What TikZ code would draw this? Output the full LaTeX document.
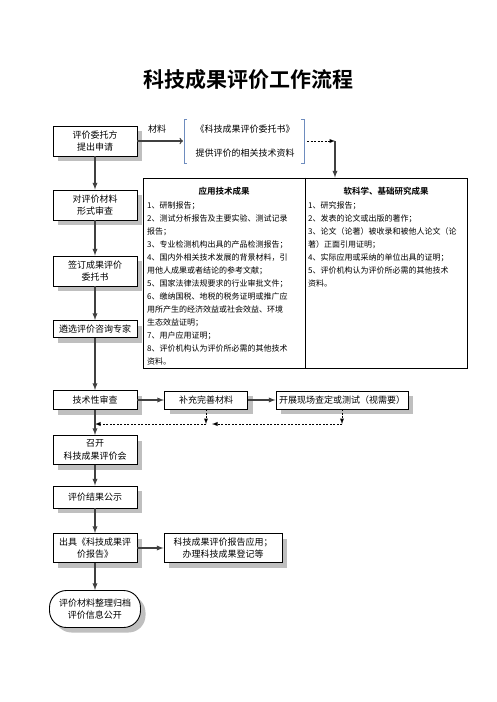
\documentclass[tikz,border=0pt]{standalone}
\usepackage{fontspec}
\setmainfont{Noto Sans CJK SC}[BoldFont={Noto Sans CJK SC Bold}]
\usetikzlibrary{arrows,shadows,calc}
\definecolor{box_shadow}{RGB}{191, 191, 191}
\definecolor{brace_blue}{RGB}{110, 140, 190}
\definecolor{flow_line}{RGB}{64, 64, 64}
\tikzstyle{bx}=[rectangle,draw=black,fill=white,line width=0.9pt,align=center,
  font=\fontsize{9}{12.5}\selectfont,minimum width=84pt,inner sep=1pt,
  drop shadow={shadow xshift=5pt,shadow yshift=-5pt,fill=box_shadow,opacity=1}]
\tikzstyle{term}=[bx,rounded corners=17pt,minimum width=91pt,minimum height=37pt]
\tikzstyle{flow}=[draw=flow_line,line width=1.3pt,-latex]
\tikzstyle{dashflow}=[draw=black,line width=0.9pt,dash pattern=on 2pt off 1.5pt,-latex]
\tikzstyle{lbl}=[font=\fontsize{9}{12.5}\selectfont,inner sep=0pt]
\tikzstyle{col}=[font=\fontsize{8}{13}\selectfont,align=left,anchor=north west,inner sep=0pt]
\tikzstyle{hd}=[font=\fontsize{8.5}{10}\selectfont\bfseries,inner sep=0pt]
\tikzstyle{none}=[]
\begin{document}
\begin{tikzpicture}[x=1pt,y=-1pt]
            \useasboundingbox (0, 0) rectangle (496, 702);
            \node [style=none,font=\fontsize{21}{21}\selectfont\bfseries] (0) at (248, 80) {科技成果评价工作流程};
            \node [style=bx,minimum height=30pt] (1) at (95, 141) {评价委托方\\提出申请};
            \node [style=lbl] (2) at (157, 129) {材料};
            \node [style=lbl] (3) at (245, 129) {《科技成果评价委托书》};
            \node [style=lbl] (4) at (245, 153) {提供评价的相关技术资料};
            \coordinate (5) at (183, 141);
            \coordinate (6) at (307, 141);
            \coordinate (7) at (335, 141);
            \node [draw,line width=0.9pt,minimum width=324pt,minimum height=190pt,inner sep=0pt] (9) at (305, 273) {};
            \node [style=hd] (10) at (224, 191) {应用技术成果};
            \node [style=hd] (11) at (386, 191) {软科学、基础研究成果};
            \node [style=col] (12) at (147, 202) {1、研制报告；\\2、测试分析报告及主要实验、测试记录\\报告；\\3、专业检测机构出具的产品检测报告；\\4、国内外相关技术发展的背景材料，引\\用他人成果或者结论的参考文献；\\5、国家法律法规要求的行业审批文件；\\6、缴纳国税、地税的税务证明或推广应\\用所产生的经济效益或社会效益、环境\\生态效益证明；\\7、用户应用证明；\\8、评价机构认为评价所必需的其他技术\\资料。};
            \node [style=col] (13) at (308, 202) {1、研究报告；\\2、发表的论文或出版的著作；\\3、论文（论著）被收录和被他人论文（论\\著）正面引用证明；\\4、实际应用或采纳的单位出具的证明；\\5、评价机构认为评价所必需的其他技术\\资料。};
            \node [style=bx,minimum height=30pt] (14) at (95, 205) {对评价材料\\形式审查};
            \node [style=bx,minimum height=30pt] (15) at (95, 271) {签订成果评价\\委托书};
            \node [style=bx,minimum height=17pt] (16) at (95, 329) {遴选评价咨询专家};
            \node [style=bx,minimum height=19pt] (17) at (95, 400) {技术性审查};
            \node [style=bx,minimum width=83pt,minimum height=18pt] (18) at (206, 400) {补充完善材料};
            \node [style=bx,minimum width=132pt,minimum height=18pt] (19) at (342, 400) {开展现场查定或测试（视需要）};
            \node [style=bx,minimum height=29pt] (20) at (95, 450) {召开\\科技成果评价会};
            \node [style=bx,minimum height=22pt] (21) at (95, 497) {评价结果公示};
            \node [style=bx,minimum height=29pt] (22) at (95, 548) {出具《科技成果评\\价报告》};
            \node [style=bx,minimum width=118pt,minimum height=29pt] (23) at (223, 548) {科技成果评价报告应用；\\办理科技成果登记等};
            \node [style=term] (24) at (95, 609) {评价材料整理归档\\评价信息公开};
            \coordinate (25) at (206, 424);
            \coordinate (26) at (342, 424);
            \coordinate (27) at (95, 424);
            \coordinate (28) at (212, 424);
            \draw [brace_blue,line width=0.8pt] (187, 119) -- (184, 119) -- (184, 163) -- (187, 163);
            \draw [brace_blue,line width=0.8pt] (301, 119) -- (304, 119) -- (304, 163) -- (301, 163);
            \draw [style=flow,-to] (1) -- (5);
            \draw [style=dashflow] (6) -- (7);
            \draw [style=flow] (7) -- (7 |- 9.north);
            \draw [line width=0.9pt] (9.north) -- (9.south);
            \draw [style=flow] (1) -- (14);
            \draw [style=flow] (14) -- (15);
            \draw [style=flow] (15) -- (16);
            \draw [style=flow] (16) -- (17);
            \draw [style=flow] (17) -- (18);
            \draw [style=flow] (18) -- (19);
            \draw [style=dashflow] (18) -- (25);
            \draw [style=dashflow] (19) -- (26);
            \draw [style=dashflow] (26) -- (28);
            \draw [style=dashflow] (25) -- (27);
            \draw [style=flow] (17) -- (20);
            \draw [style=flow] (20) -- (21);
            \draw [style=flow] (21) -- (22);
            \draw [style=flow] (22) -- (23);
            \draw [style=flow] (22) -- (24);
    \end{tikzpicture}
\end{document}
